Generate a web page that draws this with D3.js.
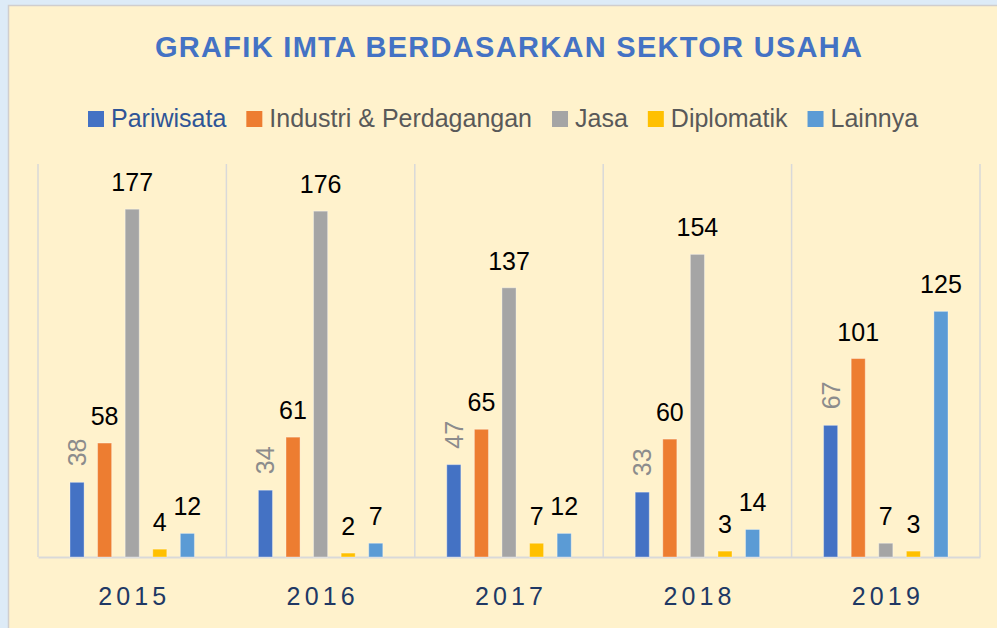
<!DOCTYPE html>
<html>
<head>
<meta charset="utf-8">
<script src="https://cdn.jsdelivr.net/npm/d3@7"></script>
<style>
  html, body { margin: 0; padding: 0; background: #DDEBF7; }
  svg { display: block; }
  text { font-family: "Liberation Sans", Arial, sans-serif; }
</style>
</head>
<body>
<div id="chart"></div>
<script>
// data
var years = ["2015", "2016", "2017", "2018", "2019"];
var seriesNames = ["Pariwisata", "Industri & Perdagangan", "Jasa", "Diplomatik", "Lainnya"];
var pariwisata = [38, 34, 47, 33, 67];
var industri = [58, 61, 65, 60, 101];
var jasa = [177, 176, 137, 154, 7];
var diplomatik = [4, 2, 7, 3, 3];
var lainnya = [12, 7, 12, 14, 125];
var colors = ["#4472C4", "#ED7D31", "#A5A5A5", "#FFC000", "#5B9BD5"];

var seriesValues = [pariwisata, industri, jasa, diplomatik, lainnya];

var width = 997, height = 628,
    margin = {top: 164, right: 17, bottom: 71, left: 38};

var svg = d3.select("#chart").append("svg")
  .attr("width", width)
  .attr("height", height);

// chart area
svg.append("rect")
  .attr("x", 8.5).attr("y", 5.5)
  .attr("width", width + 10).attr("height", height + 10)
  .style("fill", "#FFF2CC")
  .style("stroke", "#D0CECE")
  .style("stroke-width", 1.5);

// title
svg.append("text")
  .attr("x", 508.5).attr("y", 57)
  .attr("text-anchor", "middle")
  .attr("textLength", 707)
  .attr("lengthAdjust", "spacing")
  .style("font-size", "29px")
  .style("font-weight", "bold")
  .style("fill", "#4472C4")
  .text("GRAFIK IMTA BERDASARKAN SEKTOR USAHA");

// legend
var legend = svg.append("g").attr("class", "legend");
var lx = 88;
seriesNames.forEach(function(name, i) {
  legend.append("rect")
    .attr("x", lx).attr("y", 111)
    .attr("width", 16).attr("height", 16)
    .style("fill", colors[i]);
  var t = legend.append("text")
    .attr("x", lx + 23).attr("y", 127)
    .style("font-size", "25px")
    .style("fill", i == 0 ? "#2F5597" : "#595959")
    .text(name);
  lx = lx + 23 + t.node().getComputedTextLength() + 20;
});

var plotW = width - margin.left - margin.right,
    plotH = height - margin.top - margin.bottom;

var g = svg.append("g")
  .attr("transform", `translate(${margin.left},${margin.top})`);

var x0 = d3.scaleBand().domain(years).range([0, plotW]).padding(0);
var x1 = d3.scaleBand().domain(seriesNames).range([0, x0.bandwidth()])
  .paddingInner(0.49).paddingOuter(1.16);
var y = d3.scaleLinear().domain([0, 200]).range([plotH, 0]);

// vertical separators between categories
g.selectAll(".sep")
  .data(d3.range(years.length + 1))
  .enter().append("line")
  .attr("class", "sep")
  .attr("x1", d => d * x0.step()).attr("x2", d => d * x0.step())
  .attr("y1", 0).attr("y2", plotH)
  .style("stroke", "#D9D9D9")
  .style("stroke-width", 1.5);

// x axis
var xAxis = d3.axisBottom(x0).tickSize(0).tickPadding(0);
var ax = g.append("g")
  .attr("class", "x axis")
  .attr("transform", `translate(0,${plotH})`)
  .call(xAxis);
ax.select(".domain").style("stroke", "#D9D9D9").style("stroke-width", 2);
ax.selectAll(".tick text")
  .attr("y", 48)
  .attr("dy", 0)
  .attr("textLength", 68)
  .attr("lengthAdjust", "spacing")
  .style("font-family", "\"Liberation Sans\", Arial, sans-serif")
  .style("font-size", "25px")
  .style("fill", "#203864");

// bars
var rows = [];
years.forEach(function(yr, j) {
  seriesNames.forEach(function(s, i) {
    rows.push({year: yr, series: s, idx: i, value: seriesValues[i][j]});
  });
});

var groups = g.selectAll(".year")
  .data(years)
  .enter().append("g")
  .attr("class", "year")
  .attr("transform", d => `translate(${x0(d)},0)`);

groups.selectAll("rect")
  .data(d => rows.filter(r => r.year == d))
  .enter().append("rect")
  .attr("x", d => x1(d.series))
  .attr("y", d => y(d.value))
  .attr("width", x1.bandwidth())
  .attr("height", d => plotH - y(d.value))
  .style("fill", d => colors[d.idx])
  .style("stroke", "#ffffff")
  .style("stroke-opacity", 0.35)
  .style("stroke-width", 1);

// labels
groups.selectAll(".lbl")
  .data(d => rows.filter(r => r.year == d))
  .enter().append("text")
  .attr("class", "lbl")
  .style("font-size", "25px")
  .each(function(d) {
    var cx = x1(d.series) + x1.bandwidth() / 2;
    var t = d3.select(this);
    if (d.idx == 0) {
      t.attr("transform", `translate(${cx + 9},${y(d.value) - 16}) rotate(-90)`)
        .attr("text-anchor", "start")
        .style("fill", "#8C8C8C");
    } else {
      t.attr("x", cx).attr("y", y(d.value) - 18)
        .attr("text-anchor", "middle")
        .style("fill", "#000000");
    }
    t.text(d.value);
  });
</script>
</body>
</html>
